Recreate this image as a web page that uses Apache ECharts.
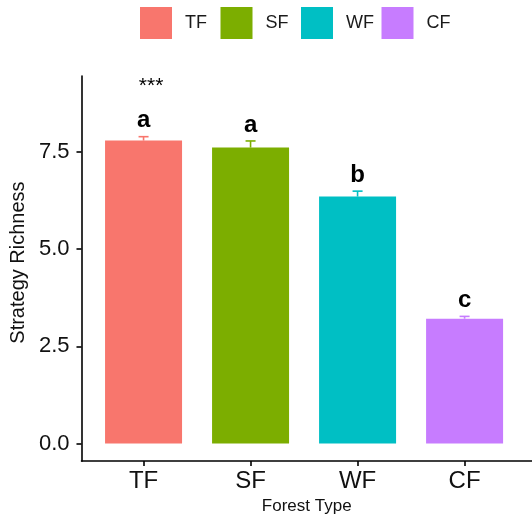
<!DOCTYPE html>
<html>
<head>
<meta charset="utf-8">
<script src="https://cdn.jsdelivr.net/npm/echarts@6/dist/echarts.min.js"></script>
<style>html,body{margin:0;padding:0;background:#fff;}#chart{width:532px;height:520px;}</style>
</head>
<body>
<div id="chart"></div>
<script>
const categories = ['TF', 'SF', 'WF', 'CF'];
const means = [7.79, 7.61, 6.35, 3.21];
const errs = [0.10, 0.17, 0.14, 0.06];
const letters = ['a', 'a', 'b', 'c'];
const colors = ['#F8766D', '#7CAE00', '#00BFC4', '#C77CFF'];
const yTicks = [0, 2.5, 5, 7.5];
const sigLabel = '***';
const sigPos = [1.07, 9.2];

const FONT = '"Liberation Sans", Arial, sans-serif';
const chart = echarts.init(document.getElementById('chart'), null, {renderer: 'canvas'});

const barSeries = categories.map((c, i) => ({
  type: 'bar',
  name: c,
  data: [[i + 1, means[i]]],
  barWidth: 77,
  barGap: '-100%',
  itemStyle: {color: colors[i]},
  emphasis: {disabled: true},
  z: 2
}));

const errSeries = {
  type: 'custom',
  data: means.map((m, i) => [i + 1, m, m + errs[i], i]),
  z: 3,
  silent: true,
  renderItem: function (params, api) {
    const x = api.value(0);
    const i = api.value(3);
    const p0 = api.coord([x, api.value(1)]);
    const p1 = api.coord([x, api.value(2)]);
    const col = colors[i];
    return {
      type: 'group',
      children: [
        {type: 'line', shape: {x1: p0[0], y1: p0[1], x2: p1[0], y2: p1[1]}, style: {stroke: col, lineWidth: 1.6}},
        {type: 'line', shape: {x1: p1[0] - 5, y1: p1[1], x2: p1[0] + 5, y2: p1[1]}, style: {stroke: col, lineWidth: 1.6}},
        {type: 'text', x: p1[0], y: p1[1] - 4, style: {text: letters[i], fill: '#000', font: 'bold 24px ' + FONT, align: 'center', verticalAlign: 'bottom'}}
      ]
    };
  }
};

const sigSeries = {
  type: 'custom',
  data: [sigPos],
  z: 3,
  silent: true,
  renderItem: function (params, api) {
    const p = api.coord([api.value(0), api.value(1)]);
    return {type: 'text', x: p[0], y: p[1], style: {text: sigLabel, fill: '#000', font: '21px ' + FONT, align: 'center', verticalAlign: 'middle'}};
  }
};

const legends = categories.map((c, i) => ({
  data: [c],
  left: 140 + i * 80.5,
  top: 7,
  padding: 0,
  icon: 'rect',
  itemWidth: 32,
  itemHeight: 32,
  selectedMode: false,
  textStyle: {fontFamily: FONT, fontSize: 18, color: '#1a1a1a', padding: [0, 0, 0, 8]}
}));

chart.setOption({
  animation: false,
  backgroundColor: '#fff',
  legend: legends,
  grid: {left: 80, right: 0, top: 76, bottom: 56, containLabel: false},
  xAxis: {
    type: 'value',
    min: 0.42,
    max: 4.63,
    name: 'Forest Type',
    nameLocation: 'middle',
    nameGap: 34,
    nameTextStyle: {fontFamily: FONT, fontSize: 17, color: '#111'},
    axisLine: {show: true, onZero: false, lineStyle: {color: '#000', width: 1.6}},
    axisTick: {show: true, length: 5, customValues: [1, 2, 3, 4], lineStyle: {color: '#000', width: 1.6}},
    axisLabel: {customValues: [1, 2, 3, 4], formatter: v => categories[Math.round(v) - 1], fontFamily: FONT, fontSize: 24, color: '#111', margin: 8},
    splitLine: {show: false}
  },
  yAxis: {
    type: 'value',
    min: -0.45,
    max: 9.45,
    name: 'Strategy Richness',
    nameLocation: 'middle',
    nameGap: 52,
    nameTextStyle: {fontFamily: FONT, fontSize: 20, color: '#111', padding: [0, 0, 0, 12]},
    axisLine: {show: true, onZero: false, lineStyle: {color: '#000', width: 1.6}},
    axisTick: {show: true, length: 5, customValues: yTicks, lineStyle: {color: '#000', width: 1.6}},
    axisLabel: {customValues: yTicks, formatter: v => v.toFixed(1), fontFamily: FONT, fontSize: 22, color: '#111', margin: 12},
    splitLine: {show: false}
  },
  series: barSeries.concat([errSeries, sigSeries])
});
</script>
</body>
</html>
